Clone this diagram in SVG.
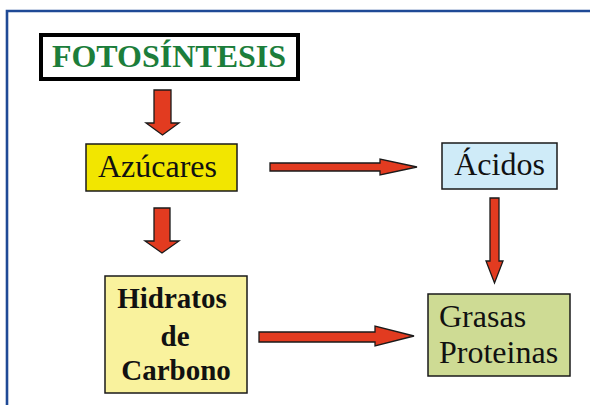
<svg xmlns="http://www.w3.org/2000/svg" width="590" height="405" viewBox="0 0 590 405">
<style>
.box{stroke:#1a1a1a;stroke-width:1.5}
.arrow{fill:#E23B20;stroke:#1a1a1a;stroke-width:1.3;stroke-linejoin:miter}
.t{font-family:"Liberation Serif","Times New Roman",serif;font-size:32px;fill:#111}
.b{font-weight:bold;font-size:29px}
</style>
<rect width="590" height="405" fill="#ffffff"/>
<path d="M7,405 V11 H590" fill="none" stroke="#1F4A96" stroke-width="2.6"/>
<g id="connectors">
<polygon class="arrow" points="154,90 171,90 171,123 179,123 162.5,135 146,123 154,123"/>
<polygon class="arrow" points="154,208 170,208 170,241 179,241 162,253 145,241 154,241"/>
<polygon class="arrow" points="270,163 380,163 380,159 417,167 380,175 380,171 270,171"/>
<polygon class="arrow" points="490,198 499,198 499,261 503,261 494.5,283 486,261 490,261"/>
<polygon class="arrow" points="259,332 375,332 375,326 414,336 375,346 375,342 259,342"/>
</g>
<g id="fotosintesis">
<rect x="41" y="35" width="257" height="44" fill="#ffffff" stroke="#000" stroke-width="4"/>
<text x="169" y="67" text-anchor="middle" font-family="Liberation Serif,'Times New Roman',serif" font-weight="bold" font-size="32" fill="#1C7E3B">FOTOSÍNTESIS</text>
</g>
<g id="azucares">
<rect class="box" x="86" y="144" width="151" height="47" fill="#F2E600"/>
<text class="t" x="157.5" y="177" text-anchor="middle">Azúcares</text>
</g>
<g id="acidos">
<rect class="box" x="442" y="143" width="115" height="46" fill="#CFEBF8"/>
<text class="t" x="499.5" y="175" text-anchor="middle">Ácidos</text>
</g>
<g id="hidratos">
<rect class="box" x="105" y="276" width="142" height="117" fill="#F9F29D"/>
<text class="t b" x="172" y="308" text-anchor="middle">Hidratos</text>
<text class="t b" x="175" y="346" text-anchor="middle">de</text>
<text class="t b" x="176" y="380" text-anchor="middle">Carbono</text>
</g>
<g id="grasas">
<rect class="box" x="428" y="294" width="142" height="82" fill="#CEDB94"/>
<text class="t" x="439" y="327">Grasas</text>
<text class="t" x="439" y="363">Proteinas</text>
</g>
</svg>
